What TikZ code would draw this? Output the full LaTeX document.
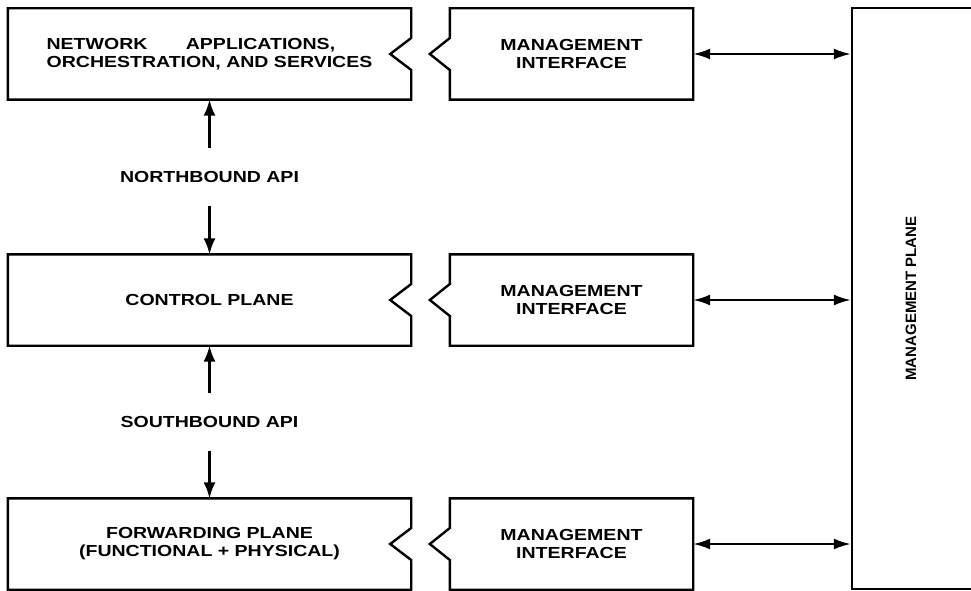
\documentclass[tikz,border=0pt]{standalone}
\usepackage{fontspec}
\usetikzlibrary{arrows.meta}
\newfontfamily\boxfont[FakeStretch=1.22]{Liberation Sans}
\newfontfamily\sidefont{Liberation Sans}

\begin{document}
\begin{tikzpicture}[x=1pt,y=-1pt,
  blk/.style={minimum width=403pt,minimum height=91pt,inner sep=0pt,align=center,
    font=\boxfont\bfseries\fontsize{16}{18}\selectfont},
  mgmt/.style={blk,minimum width=243pt},
  apilbl/.style={inner xsep=0pt,inner ysep=23pt,
    font=\boxfont\bfseries\fontsize{16}{18}\selectfont},
  outline/.style={line width=2.4pt},
  arr/.style={line width=2.2pt,-{Latex[length=16pt,width=12pt]}},
  both/.style={line width=2.2pt,{Latex[length=17pt,width=11pt]}-{Latex[length=17pt,width=11pt]}}]
\useasboundingbox (0,0) rectangle (971,591);
\clip (0,0) rectangle (971,591);
% ---- planes on the left ----
\node[blk,align=left] (app) at (209.5,54) {NETWORK\hspace{2.4em}APPLICATIONS,\\ORCHESTRATION, AND SERVICES};
\node[blk] (ctl) at (209.5,300) {CONTROL PLANE};
\node[blk] (fwd) at (209.5,544) {FORWARDING PLANE\\(FUNCTIONAL + PHYSICAL)};
% ---- management interfaces ----
\node[mgmt] (mia) at (571.5,54) {MANAGEMENT\\INTERFACE};
\node[mgmt] (mib) at (571.5,300) {MANAGEMENT\\INTERFACE};
\node[mgmt] (mic) at (571.5,544) {MANAGEMENT\\INTERFACE};
% ---- management plane ----
\node[draw,line width=2.4pt,minimum width=123pt,minimum height=581pt,inner sep=0pt] (mp) at (913.5,298.5) {};
\node[rotate=90,font=\sidefont\bfseries\fontsize{15}{17}\selectfont] (mptxt) at ([xshift=-2.5pt]mp.center) {MANAGEMENT PLANE};
% ---- outlines with notches ----
\foreach \b/\m in {app/mia,ctl/mib,fwd/mic} {
  \draw[outline] (\b.north west) -- (\b.north east) -- ([yshift=16pt]\b.east)
    -- ([xshift=-21pt]\b.east) -- ([yshift=-16pt]\b.east) -- (\b.south east)
    -- (\b.south west) -- cycle;
  \draw[outline] (\m.north west) -- (\m.north east) -- (\m.south east)
    -- (\m.south west) -- ([yshift=-16pt]\m.west) -- ([xshift=-20pt]\m.west)
    -- ([yshift=16pt]\m.west) -- cycle;
  \draw[both] (\m.east) -- (\m.east -| mp.west);
}
% ---- APIs ----
\node[apilbl] (nb) at (209.5,177) {NORTHBOUND API};
\node[apilbl] (sb) at (209.5,422) {SOUTHBOUND API};
\draw[arr] (nb.north) -- (app.south);
\draw[arr] (nb.south) -- (ctl.north);
\draw[arr] (sb.north) -- (ctl.south);
\draw[arr] (sb.south) -- (fwd.north);
\end{tikzpicture}
\end{document}
